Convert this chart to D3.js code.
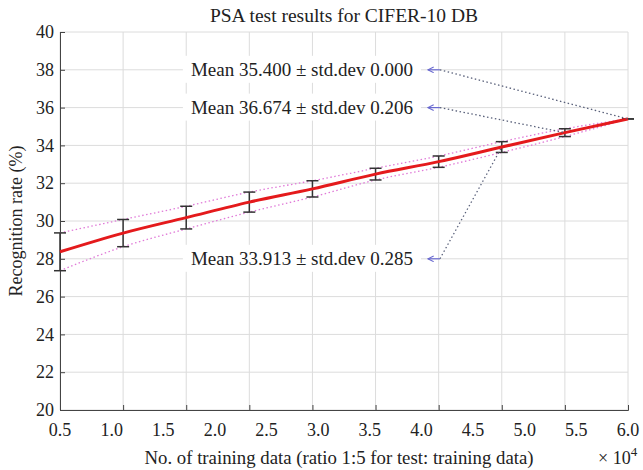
<!DOCTYPE html>
<html>
<head>
<meta charset="utf-8">
<script src="https://cdn.jsdelivr.net/npm/d3@7"></script>
<style>
  body { margin: 0; background: #fff; }
  text { font-family: "Liberation Serif", "Times New Roman", serif; fill: #222; }
</style>
</head>
<body>
<div id="container"></div>
<script>
/* CONSTANTS AND DATA */
const width = 643,
  height = 470,
  margin = { top: 32, bottom: 60, left: 60, right: 15 };

// 10 training set sizes (steps), drawn on the tick/grid positions
const steps = [1, 2, 3, 4, 5, 6, 7, 8, 9, 10];
const means = [28.37, 29.36, 30.18, 31.0, 31.7, 32.48, 33.14, 33.913, 34.674, 35.4];
const stds = [1.0, 0.72, 0.6, 0.53, 0.43, 0.31, 0.3, 0.285, 0.206, 0.0];

// tick labels printed under the axis (x 10^4)
const xTickLabels = ["0.5", "1.0", "1.5", "2.0", "2.5", "3.0", "3.5", "4.0", "4.5", "5.0", "5.5", "6.0"];
const yTicks = [20, 22, 24, 26, 28, 30, 32, 34, 36, 38, 40];

// annotations: text, y level of the label, index of the point it points to
const notes = [
  { label: "Mean 35.400 \u00b1 std.dev 0.000", y: 38, idx: 9 },
  { label: "Mean 36.674 \u00b1 std.dev 0.206", y: 36, idx: 8 },
  { label: "Mean 33.913 \u00b1 std.dev 0.285", y: 28, idx: 7 }
];
const noteX = 7.02; // step position of the arrow tail

const svg = d3.select("#container").append("svg")
  .attr("width", width)
  .attr("height", height);

/* SCALES */
const xScale = d3.scaleLinear()
  .domain([1, 10])
  .range([margin.left, width - margin.right]);

const xLabelScale = d3.scalePoint()
  .domain(xTickLabels)
  .range([margin.left, width - margin.right]);

const yScale = d3.scaleLinear()
  .domain([20, 40])
  .range([height - margin.bottom, margin.top]);

/* GRID */
svg.append("g")
  .selectAll("line")
  .data(steps)
  .join("line")
  .attr("x1", d => xScale(d)).attr("x2", d => xScale(d))
  .attr("y1", yScale(20)).attr("y2", yScale(40))
  .attr("stroke", "#dcdcdc");

svg.append("g")
  .selectAll("line")
  .data(yTicks)
  .join("line")
  .attr("x1", xScale(1)).attr("x2", xScale(10))
  .attr("y1", d => yScale(d)).attr("y2", d => yScale(d))
  .attr("stroke", "#dcdcdc");

/* AXES */
const xAxis = d3.axisBottom(xScale).tickValues(steps).tickSize(-5).tickFormat("");
svg.append("g")
  .attr("transform", `translate(0,${yScale(20)})`)
  .call(xAxis)
  .call(g => g.selectAll("path, line").attr("stroke", "#444"));

svg.append("g")
  .selectAll("text")
  .data(xTickLabels)
  .join("text")
  .attr("x", d => xLabelScale(d))
  .attr("y", yScale(20) + 26)
  .attr("text-anchor", "middle")
  .style("font-size", "18px")
  .text(d => d);

const yAxis = d3.axisLeft(yScale).tickValues(yTicks).tickSize(-5).tickPadding(6);
svg.append("g")
  .attr("transform", `translate(${margin.left},0)`)
  .call(yAxis)
  .call(g => g.selectAll("path, line").attr("stroke", "#444"))
  .call(g => g.selectAll("text")
    .style("font-size", "18px")
    .attr("fill", "#222"));

/* BOUNDS (mean +/- std) */
const bound = sign => d3.line()
  .x((d, i) => xScale(steps[i]))
  .y((d, i) => yScale(d + sign * stds[i]))
  .curve(d3.curveMonotoneX);

[1, -1].forEach(s => {
  svg.append("path")
    .datum(means)
    .attr("d", bound(s))
    .attr("fill", "none")
    .attr("stroke", "#e07ad8")
    .attr("stroke-width", 1.3)
    .attr("stroke-dasharray", "1.5,2.5");
});

/* ERROR BARS */
const bars = svg.append("g")
  .selectAll("g")
  .data(means)
  .join("g")
  .attr("stroke", "#333")
  .attr("stroke-width", 1.5);

bars.append("line")
  .attr("x1", (d, i) => xScale(steps[i])).attr("x2", (d, i) => xScale(steps[i]))
  .attr("y1", (d, i) => yScale(d + stds[i])).attr("y2", (d, i) => yScale(d - stds[i]));

[1, -1].forEach(s => {
  bars.append("line")
    .attr("x1", (d, i) => xScale(steps[i]) - 6).attr("x2", (d, i) => xScale(steps[i]) + 6)
    .attr("y1", (d, i) => yScale(d + s * stds[i])).attr("y2", (d, i) => yScale(d + s * stds[i]));
});

/* MEAN LINE */
svg.append("path")
  .datum(means)
  .attr("d", d3.line()
    .x((d, i) => xScale(steps[i]))
    .y(d => yScale(d))
    .curve(d3.curveMonotoneX))
  .attr("fill", "none")
  .attr("stroke", "#e41a1c")
  .attr("stroke-width", 3);

/* ANNOTATIONS */
svg.append("defs").append("marker")
  .attr("id", "arr")
  .attr("viewBox", "0 0 10 10")
  .attr("refX", 9).attr("refY", 5)
  .attr("markerWidth", 6).attr("markerHeight", 6)
  .attr("orient", "auto")
  .append("path")
  .attr("d", "M1,1 L9,5 L1,9")
  .attr("fill", "none")
  .attr("stroke", "#6a6ad0")
  .attr("stroke-width", 1.5);

notes.forEach(n => {
  const x0 = xScale(noteX), y0 = yScale(n.y);
  const label = svg.append("text")
    .attr("x", x0 - 27)
    .attr("y", y0 + 6)
    .attr("text-anchor", "end")
    .style("font-size", "19px")
    .text(n.label);
  const bb = label.node().getBBox();
  svg.insert("rect", () => label.node())
    .attr("x", bb.x - 8).attr("y", bb.y - 3)
    .attr("width", bb.width + 16).attr("height", bb.height + 6)
    .attr("fill", "#fff");

  svg.append("line")
    .attr("x1", x0).attr("y1", y0)
    .attr("x2", xScale(steps[n.idx])).attr("y2", yScale(means[n.idx]))
    .attr("stroke", "#59607a")
    .attr("stroke-width", 1.3)
    .attr("stroke-dasharray", "1.5,2.5");

  svg.append("line")
    .attr("x1", x0).attr("y1", y0)
    .attr("x2", x0 - 12).attr("y2", y0)
    .attr("stroke", "#6a6ad0")
    .attr("stroke-width", 1.2)
    .attr("marker-end", "url(#arr)");
});

/* TITLES */
svg.append("text")
  .attr("x", (xScale(1) + xScale(10)) / 2)
  .attr("y", 22)
  .attr("text-anchor", "middle")
  .style("font-size", "19.5px")
  .text("PSA test results for CIFER-10 DB");

svg.append("text")
  .attr("x", (xScale(1) + xScale(10)) / 2 - 5)
  .attr("y", 464)
  .attr("text-anchor", "middle")
  .style("font-size", "18.8px")
  .text("No. of training data (ratio 1:5 for test: training data)");

const mult = svg.append("text")
  .attr("x", 598)
  .attr("y", 464)
  .style("font-size", "18px");
mult.append("tspan").text("\u00d7 10");
mult.append("tspan").attr("dy", -8).style("font-size", "13px").text("4");

svg.append("text")
  .attr("transform", `translate(22,${(yScale(20) + yScale(40)) / 2}) rotate(-90)`)
  .attr("text-anchor", "middle")
  .style("font-size", "18px")
  .text("Recognition rate (%)");
</script>
</body>
</html>
